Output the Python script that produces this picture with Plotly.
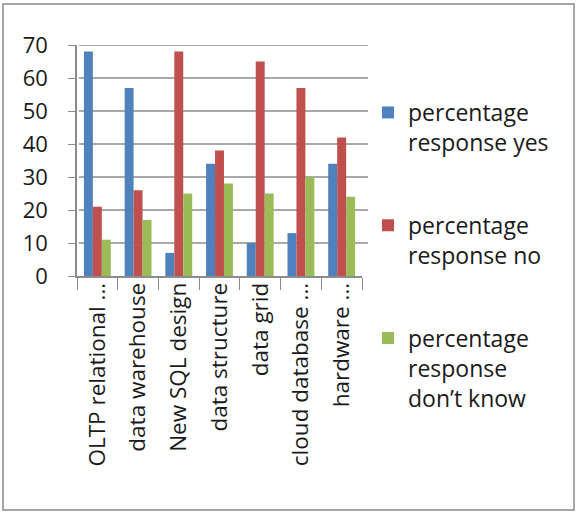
import plotly.graph_objects as go

categories = ["OLTP relational ...", "data warehouse", "New SQL design",
              "data structure", "data grid", "cloud database ...", "hardware ..."]
yes_values = [68, 57, 7, 34, 10, 13, 34]
no_values = [21, 26, 68, 38, 65, 57, 42]
dont_know_values = [11, 17, 25, 28, 25, 30, 24]
series_names = ["percentage<br>response yes", "percentage<br>response no",
                "percentage<br>response<br>don\u2019t know"]
y_ticks = [0, 10, 20, 30, 40, 50, 60, 70]

colors = ["#4F81BD", "#C0504D", "#9BBB59"]
FONT = "Open Sans"
GRID = "#8c8c8c"

fig = go.Figure()
for i, (name, vals) in enumerate(zip(series_names, [yes_values, no_values, dont_know_values])):
    fig.add_trace(go.Bar(
        x=categories, y=vals, name=name, legendgroup=f"g{i}",
        marker=dict(color=colors[i], line=dict(width=0)),
    ))

W, H = 576, 512
L, R, T, B = 77, 214, 45, 236
pw = W - L - R
ph = H - T - B

def px_x(x):
    return (x - L) / pw

def px_y(y):
    return (H - B - y) / ph

# back-wall gridlines (slightly wider than the category axis, as in the 3-D original)
grid_shapes = [dict(
    type="line", xref="paper", yref="y",
    x0=px_x(79), x1=px_x(368), y0=v, y1=v,
    line=dict(color=GRID, width=1.5), layer="below",
) for v in y_ticks[1:]]

border = dict(
    type="rect", xref="paper", yref="paper",
    x0=px_x(3), x1=px_x(574), y0=px_y(510), y1=px_y(4),
    line=dict(color="#a6a6a6", width=2), fillcolor="rgba(0,0,0,0)",
    layer="below",
)

fig.update_layout(
    width=W, height=H,
    margin=dict(l=L, r=R, t=T, b=B),
    paper_bgcolor="white", plot_bgcolor="rgba(0,0,0,0)",
    barmode="group", bargap=0.34, bargroupgap=0,
    font=dict(family=FONT, color="#1a1a1a"),
    showlegend=True,
    legend=dict(
        x=px_x(368), y=px_y(91), xanchor="left", yanchor="top",
        font=dict(family=FONT, size=23, color="#1a1a1a"),
        tracegroupgap=50, valign="top", itemwidth=30,
        bgcolor="rgba(0,0,0,0)", maxheight=480,
    ),
    xaxis=dict(
        type="category", tickangle=-90,
        tickfont=dict(family=FONT, size=22.5, color="#1a1a1a"),
        ticks="outside", tickson="boundaries", ticklen=12, tickcolor=GRID,
        ticklabelstandoff=-4,
        showline=True, linecolor=GRID, linewidth=1.5,
        showgrid=False,
    ),
    yaxis=dict(
        range=[0, 70], tickvals=y_ticks,
        tickfont=dict(family=FONT, size=22, color="#1a1a1a"),
        ticks="outside", ticklen=7, tickcolor=GRID,
        ticklabelstandoff=16,
        showline=True, linecolor=GRID, linewidth=1.5,
        showgrid=False, zeroline=False,
    ),
    shapes=[border] + grid_shapes,
)

fig.write_html(
    "out.html",
    config={"displayModeBar": False},
    post_script="document.body.style.margin='0';document.body.style.overflow='hidden';",
)
